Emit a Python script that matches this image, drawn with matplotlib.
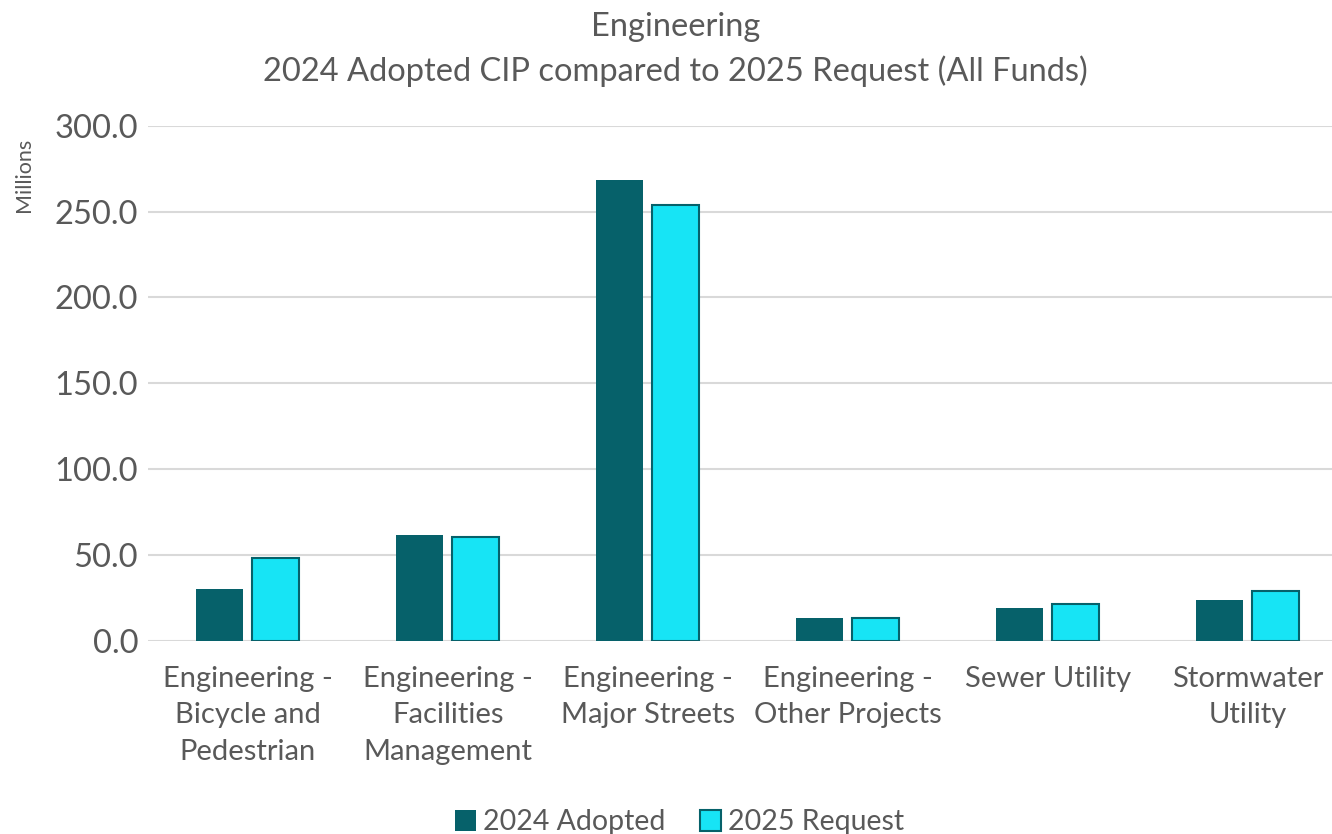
import matplotlib.pyplot as plt
import numpy as np

plt.rcParams['font.family'] = ['Lato', 'DejaVu Sans']

categories = ['Engineering -\nBicycle and\nPedestrian', 'Engineering -\nFacilities\nManagement',
              'Engineering -\nMajor Streets', 'Engineering -\nOther Projects',
              'Sewer Utility', 'Stormwater\nUtility']
adopted_2024 = [29.8, 61.3, 268.7, 13.4, 19.1, 23.4]
request_2025 = [47.9, 60.2, 254.1, 13.0, 21.0, 28.6]

grey = '#595959'
dark = '#06616A'
cyan = '#17E4F5'

fig = plt.figure(figsize=(13.32, 8.34), dpi=100)
# plot area runs a little past the right edge, like the original export
ax = fig.add_axes([0.111, 0.232, 0.901, 0.617])

x = np.arange(len(categories))
w = 0.235
gap = 0.045
ax.bar(x - (w + gap) / 2, adopted_2024, w, color=dark, label='2024 Adopted', zorder=3)
ax.bar(x + (w + gap) / 2, request_2025, w, color=cyan, edgecolor=dark, linewidth=1.5,
       label='2025 Request', zorder=3)

ax.set_xlim(-0.5, len(categories) - 0.5)
ax.set_ylim(0, 300)
ax.set_yticks(np.arange(0, 301, 50))
ax.set_yticklabels(['%.1f' % v for v in np.arange(0, 301, 50)])
ax.set_xticks(x)
ax.set_xticklabels(categories, linespacing=1.5)
ax.grid(axis='y', color='#d9d9d9', linewidth=1.5, zorder=0)
for s in ax.spines.values():
    s.set_visible(False)
ax.tick_params(axis='both', length=0, colors=grey)
ax.tick_params(axis='x', pad=18, labelsize=21)
ax.tick_params(axis='y', pad=7, labelsize=23.5)

fig.text(0.018, 0.79, 'Millions', rotation=90, fontsize=15.5, color=grey, ha='center', va='center')
fig.text(0.507, 0.968, 'Engineering', fontsize=23.5, color=grey, ha='center', va='center')
fig.text(0.507, 0.915, '2024 Adopted CIP compared to 2025 Request (All Funds)', fontsize=23.5,
         color=grey, ha='center', va='center')

leg = fig.legend(loc='lower center', bbox_to_anchor=(0.51, -0.032), ncol=2, frameon=False,
                 fontsize=20.5, handlelength=0.75, handleheight=0.75, handletextpad=0.25,
                 columnspacing=1.2)
for t in leg.get_texts():
    t.set_color(grey)

fig.savefig('out.png', dpi=100)
